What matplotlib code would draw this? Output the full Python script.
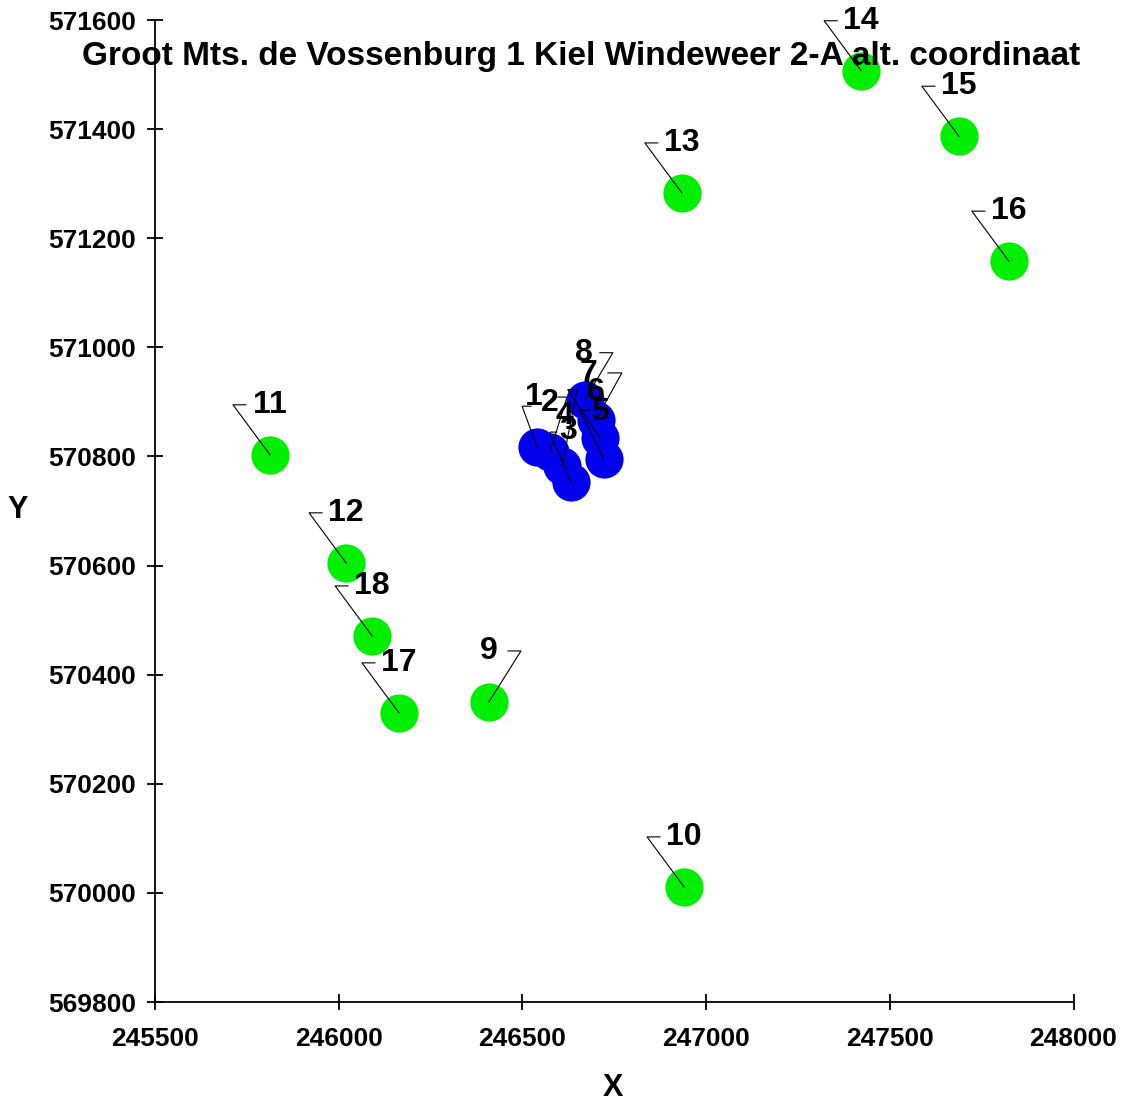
import matplotlib
matplotlib.use("Agg")
import matplotlib.pyplot as plt
import matplotlib.transforms as mtransforms

plt.rcParams['font.family'] = ['Liberation Sans', 'DejaVu Sans']
plt.rcParams['font.weight'] = 'bold'

title = "Groot Mts. de Vossenburg 1 Kiel Windeweer 2-A alt. coordinaat"

# blue points 1-8
blue_labels = ["1", "2", "3", "4", "5", "6", "7", "8"]
blue_x = [246540, 246575, 246632, 246608, 246722, 246711, 246700, 246670]
blue_y = [570817, 570808, 570753, 570783, 570795, 570834, 570867, 570904]

# green points 9-18
green_labels = ["9", "10", "11", "12", "13", "14", "15", "16", "17", "18"]
green_x = [246409, 246940, 245813, 246020, 246934, 247422, 247688, 247824, 246164, 246091]
green_y = [570350, 570011, 570803, 570605, 571283, 571507, 571387, 571158, 570330, 570471]

x_ticks = [245500, 246000, 246500, 247000, 247500, 248000]
y_ticks = [569800, 570000, 570200, 570400, 570600, 570800, 571000, 571200, 571400, 571600]

# leader layout in pixels: corner, end of short horizontal, text centre
std = ((-37, 50), (-24, 50), (0, 50))
leader = {
    "1": ((-15, 41), (-6, 41), (-3, 50)),
    "2": ((17, 55), (8, 55), (0, 49)),
    "3": ((-21, 50), (-14, 50), (-3, 51)),
    "4": ((15, 76), (6, 76), (2, 50)),
    "5": ((-24, 49), (-14, 49), (-4, 47)),
    "6": ((-32, 48), (-23, 48), (-4, 46)),
    "7": ((26, 47), (12, 47), (-7, 46)),
    "8": ((28, 47), (15, 47), (-1, 47)),
    "9": ((32, 51), (19, 51), (0, 51)),
}

fig = plt.figure(figsize=(11.22, 11.08), dpi=100)
ax = fig.add_axes([155 / 1122, 106 / 1108, 918.5 / 1122, 982 / 1108])

ax.plot(green_x, green_y, 'o', color='#00ee00', markersize=27.5, markeredgewidth=0, zorder=2)
ax.plot(blue_x, blue_y, 'o', color='#0000ee', markersize=27.5, markeredgewidth=0, zorder=2)

for labs, xs, ys in [(blue_labels, blue_x, blue_y), (green_labels, green_x, green_y)]:
    for lab, x, y in zip(labs, xs, ys):
        corner, hend, txt = leader.get(lab, std)
        trans = mtransforms.ScaledTranslation(x, y, ax.transData)
        ax.plot([0, corner[0], hend[0]], [0, corner[1], hend[1]], color='black',
                lw=0.8, transform=trans, zorder=3)
        ax.annotate(lab, xy=(x, y), xytext=txt, textcoords='offset pixels',
                    ha='center', va='center', fontsize=23, fontweight='bold', zorder=4)

ax.set_xlim(245500, 248000)
ax.set_ylim(569800, 571600)
ax.set_xticks(x_ticks)
ax.set_yticks(y_ticks)
ax.spines['top'].set_visible(False)
ax.spines['right'].set_visible(False)
for s in ['left', 'bottom']:
    ax.spines[s].set_linewidth(1.3)
ax.tick_params(direction='inout', length=11.5, width=1.3, labelsize=19)
ax.tick_params(axis='x', pad=12)
ax.tick_params(axis='y', pad=8)
for lab in ax.get_xticklabels() + ax.get_yticklabels():
    lab.set_fontweight('bold')

fig.text(613 / 1122, 1 - 1088 / 1108, "X", ha='center', va='center', fontsize=22, fontweight='bold')
fig.text(18 / 1122, 1 - 510 / 1108, "Y", ha='center', va='center', fontsize=22, fontweight='bold')
fig.text(581 / 1122, 1 - 57 / 1108, title, ha='center', va='center', fontsize=24,
         fontweight='bold', zorder=10)

fig.savefig("out.png", dpi=100)
